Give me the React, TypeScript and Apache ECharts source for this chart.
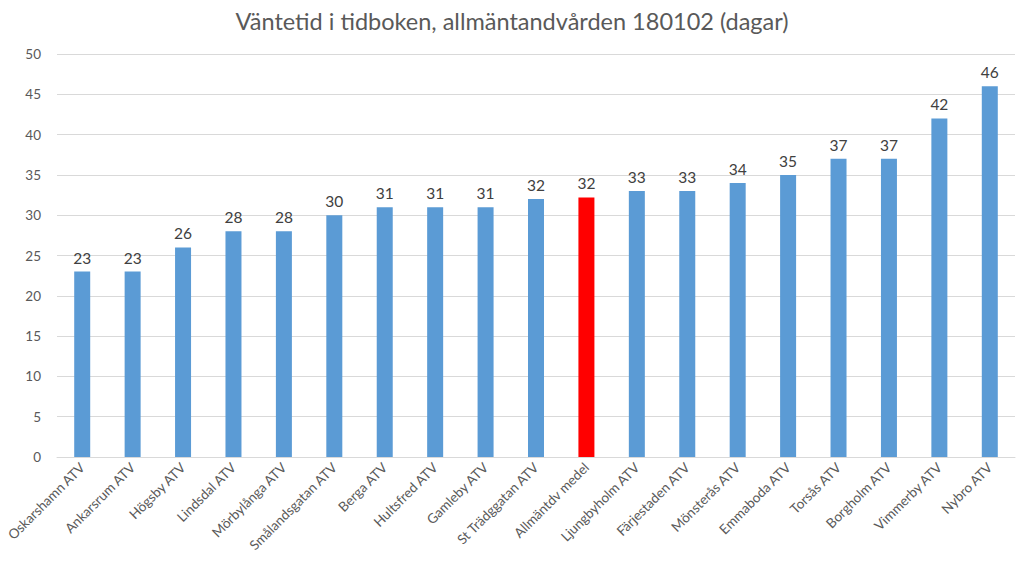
import React, { useEffect, useRef } from "react";
import * as echarts from "echarts";

const categories = [
  "Oskarshamn ATV", "Ankarsrum ATV", "Högsby ATV", "Lindsdal ATV", "Mörbylånga ATV",
  "Smålandsgatan ATV", "Berga ATV", "Hultsfred ATV", "Gamleby ATV", "St Trädggatan ATV",
  "Allmäntdv medel", "Ljungbyholm ATV", "Färjestaden ATV", "Mönsterås ATV", "Emmaboda ATV",
  "Torsås ATV", "Borgholm ATV", "Vimmerby ATV", "Nybro ATV",
];
const values = [23, 23, 26, 28, 28, 30, 31, 31, 31, 32, 32.2, 33, 33, 34, 35, 37, 37, 42, 46];
const highlightCategory = "Allmäntdv medel";
const titleText = "Väntetid i tidboken, allmäntandvården 180102 (dagar)";

export default function App() {
  const ref = useRef<HTMLDivElement>(null);
  useEffect(() => {
    if (!ref.current) return;
    const chart = echarts.init(ref.current, null, { renderer: "svg" });
    const font = "Lato, 'Open Sans', sans-serif";
    chart.setOption({
      animation: false,
      backgroundColor: "#ffffff",
      title: {
        text: titleText,
        left: "center",
        top: 4,
        textStyle: { fontFamily: font, fontSize: 23.5, fontWeight: "normal", color: "#595959" },
      },
      grid: { left: 57, right: 9, top: 54, bottom: 114 },
      xAxis: {
        type: "category",
        data: categories,
        axisLine: { lineStyle: { color: "#d9d9d9" } },
        axisTick: { show: false },
        axisLabel: {
          rotate: 45,
          interval: 0,
          fontFamily: font,
          fontSize: 13.5,
          color: "#595959",
          margin: 8,
        },
      },
      yAxis: {
        type: "value",
        min: 0,
        max: 50,
        interval: 5,
        axisLine: { show: false },
        axisTick: { show: false },
        splitLine: { lineStyle: { color: "#d9d9d9" } },
        axisLabel: { fontFamily: font, fontSize: 13.5, color: "#595959", margin: 16 },
      },
      series: [
        {
          type: "bar",
          barWidth: 16,
          data: values.map((v, i) => ({
            value: v,
            itemStyle: { color: categories[i] === highlightCategory ? "#ff0000" : "#5b9bd5" },
          })),
          label: {
            show: true,
            position: "top",
            distance: 6,
            fontFamily: font,
            fontSize: 15.5,
            color: "#404040",
            formatter: (p: any) => String(Math.round(p.value)),
          },
        },
      ],
    });
    return () => chart.dispose();
  }, []);
  return <div ref={ref} style={{ width: 1024, height: 571, position: "absolute", left: 0, top: 0 }} />;
}
